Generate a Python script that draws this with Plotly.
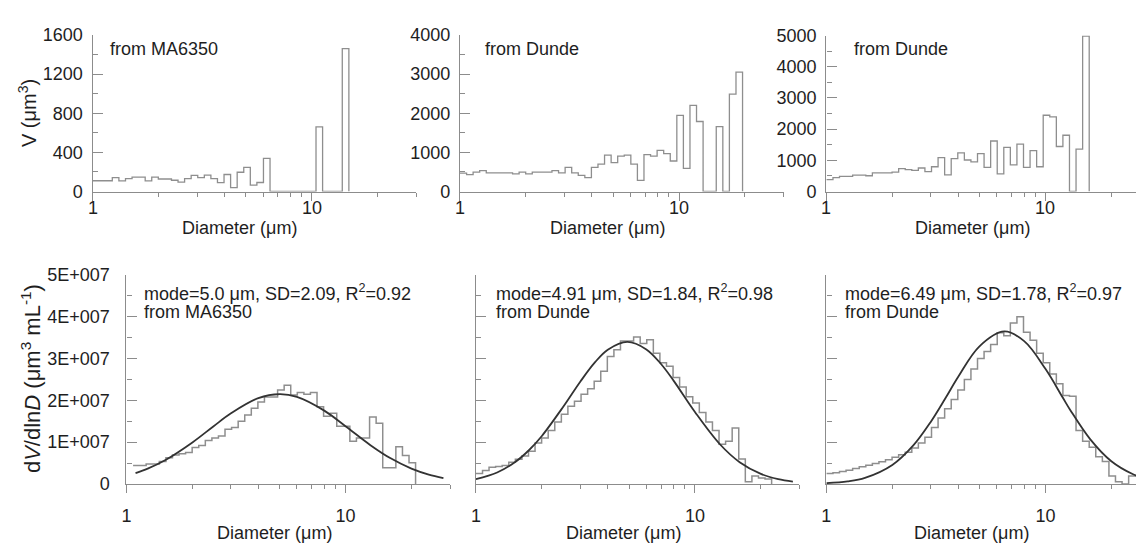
import math
import plotly.graph_objects as go

W, H = 1136, 554

# ---------------- data ----------------
# lower bin edges of the size classes (diameter, um); log step 0.03 decade
BIN_EDGES = [1.000, 1.072, 1.148, 1.230, 1.318, 1.413, 1.514, 1.622, 1.738, 1.862,
             1.995, 2.138, 2.291, 2.455, 2.630, 2.818, 3.020, 3.236, 3.467, 3.715,
             3.981, 4.266, 4.571, 4.898, 5.248, 5.623, 6.026, 6.457, 6.918, 7.413,
             7.943, 8.511, 9.120, 9.772, 10.47, 11.22, 12.02, 12.88, 13.80, 14.79,
             15.85, 16.98, 18.20, 19.50, 20.89, 22.39, 23.99, 25.70, 27.54, 29.51, 31.62]

# top row: V (um^3) per size class, first class = BIN_EDGES[0]
V_MA6350 = [110, 110, 110, 141, 108, 131, 148, 148, 108, 148, 128, 128, 115, 95, 131,
            164, 141, 167, 131, 90, 174, 40, 197, 246, 66, 92, 338, 0, 0, 0, 0, 0, 0, 0,
            660, 0, 0, 0, 1462, 0]
V_DUNDE_1 = [470, 430, 493, 534, 476, 476, 476, 476, 452, 493, 452, 493, 493, 493, 534,
             476, 616, 476, 410, 353, 616, 698, 928, 739, 903, 928, 698, 287, 944, 903,
             1051, 969, 780, 1946, 591, 2200, 1790, 0, 0, 1658, 0, 2488, 3054, 0]
V_DUNDE_2 = [380, 443, 485, 485, 526, 526, 505, 598, 598, 598, 619, 732, 701, 680, 753,
             639, 794, 1083, 536, 1052, 1237, 1010, 949, 1217, 773, 1619, 567, 1412, 856,
             1516, 773, 1309, 794, 2444, 2392, 1443, 1804, 0, 1361, 4980, 0]

# bottom row: dV/dlnD in units of 1E+007 um^3 mL^-1
DV_MA6350_START = 1
DV_MA6350 = [0.44, 0.44, 0.48, 0.48, 0.54, 0.63, 0.69, 0.72, 0.75, 0.87, 0.92, 1.04, 1.10,
             1.15, 1.31, 1.35, 1.50, 1.65, 1.81, 1.96, 2.08, 2.08, 2.25, 2.36, 2.13, 2.19,
             2.15, 2.19, 1.85, 1.62, 1.69, 1.38, 1.38, 1.02, 1.10, 1.10, 1.60, 1.45, 0.39,
             0.39, 0.89, 0.68, 0.51, 0]
DV_DUNDE_1_START = 0
DV_DUNDE_1 = [0.25, 0.32, 0.40, 0.42, 0.44, 0.52, 0.59, 0.67, 0.78, 0.98, 1.10, 1.28, 1.48,
              1.67, 1.86, 1.98, 2.15, 2.28, 2.46, 2.70, 3.05, 3.21, 3.42, 3.42, 3.52, 3.36,
              3.45, 3.13, 2.90, 2.82, 2.55, 2.32, 2.09, 1.94, 1.71, 1.48, 1.28, 0.95, 1.02,
              1.34, 0.60, 0.05, 0.19, 0.14, 0.12, 0]
DV_DUNDE_2_START = 0
DV_DUNDE_2 = [0.25, 0.27, 0.30, 0.33, 0.37, 0.41, 0.45, 0.49, 0.53, 0.58, 0.64, 0.70, 0.76,
              0.86, 0.98, 1.12, 1.35, 1.58, 1.80, 2.02, 2.25, 2.50, 2.75, 3.00, 3.17, 3.34,
              3.62, 3.55, 3.85, 4.00, 3.63, 3.44, 3.13, 2.90, 2.63, 2.40, 2.12, 2.10, 1.28,
              1.02, 0.88, 0.65, 0.54, 0.19, 0.05, 0, 0.19, 0.19]

# fitted log-normal curves, 1E+007 units
FIT_D_MA6350 = [1.1, 1.25, 1.5, 2, 2.5, 3, 4, 5, 6, 8, 10, 13, 16, 20, 24, 28]
FIT_MA6350 = [0.261, 0.367, 0.567, 0.993, 1.382, 1.691, 2.054, 2.150, 2.085, 1.755, 1.382,
              0.928, 0.619, 0.367, 0.224, 0.140]
FIT_D_DUNDE_1 = [1.0, 1.25, 1.5, 1.75, 2, 2.5, 3, 3.5, 4, 4.91, 6, 7, 8, 10, 13, 16, 20, 24, 28]
FIT_DUNDE_1 = [0.113, 0.274, 0.513, 0.813, 1.149, 1.842, 2.453, 2.914, 3.213, 3.400, 3.221,
               2.871, 2.468, 1.722, 0.950, 0.521, 0.240, 0.115, 0.058]
FIT_D_DUNDE_2 = [1.0, 1.25, 1.5, 2, 2.5, 3, 3.5, 4, 5, 6.49, 8, 10, 12, 13, 16, 20, 25, 28]
FIT_DUNDE_2 = [0.019, 0.062, 0.145, 0.455, 0.929, 1.491, 2.057, 2.566, 3.295, 3.650, 3.418,
               2.756, 2.068, 1.766, 1.073, 0.543, 0.237, 0.146]

X_MAJOR = [1, 10]
X_MAJOR_TEXT = ["1", "10"]
X_MINOR = [2, 3, 4, 5, 6, 7, 8, 9, 20, 30]

TOP_Y = [
    dict(vals=[0, 400, 800, 1200, 1600], minor=[200, 600, 1000, 1400], ymax=1600),
    dict(vals=[0, 1000, 2000, 3000, 4000], minor=[500, 1500, 2500, 3500], ymax=4000),
    dict(vals=[0, 1000, 2000, 3000, 4000, 5000], minor=[500, 1500, 2500, 3500, 4500], ymax=5000),
]
BOTTOM_Y_VALS = [0, 1, 2, 3, 4, 5]
BOTTOM_Y_TEXT = ["0", "1E+007", "2E+007", "3E+007", "4E+007", "5E+007"]
BOTTOM_Y_MINOR = [0.5, 1.5, 2.5, 3.5, 4.5]

SOURCES_TOP = ["from MA6350", "from Dunde", "from Dunde"]
FIT_TEXT = ["mode=5.0 \u03bcm, SD=2.09, R<sup>2</sup>=0.92",
            "mode=4.91 \u03bcm, SD=1.84, R<sup>2</sup>=0.98",
            "mode=6.49 \u03bcm, SD=1.78, R<sup>2</sup>=0.97"]
SOURCES_BOTTOM = ["from MA6350", "from Dunde", "from Dunde"]

# ---------------- layout geometry (pixels) ----------------
FONT = "Arial, 'Liberation Sans', Helvetica, sans-serif"
TXT = "#1e1e1e"
AX = "#8c8c8c"
HIST = "#8e8e8e"
FITC = "#333333"
PX_DEC = 220.0

panels = [
    # x0 (px of D=1), xright px, ytop px, ybottom px
    dict(x0=88, x1=413, yt=26, yb=188.3),
    dict(x0=457, x1=782, yt=26, yb=188.3),
    dict(x0=825, x1=1136, yt=26.5, yb=188.3),
    dict(x0=122, x1=447, yt=275, yb=491.7),
    dict(x0=473, x1=798, yt=275, yb=491.7),
    dict(x0=825, x1=1136, yt=275, yb=491.7),
]


def steps(values, start):
    if values[-1] == 0:
        xs = BIN_EDGES[start:start + len(values)]
        ys = list(values)
    else:
        xs = BIN_EDGES[start:start + len(values) + 1]
        ys = list(values) + [values[-1]]
    return xs, ys


fig = go.Figure()

top_series = [V_MA6350, V_DUNDE_1, V_DUNDE_2]
for i, vals in enumerate(top_series):
    xs, ys = steps(vals, 0)
    fig.add_trace(go.Scatter(x=xs, y=ys, mode="lines", line=dict(shape="hv", color=HIST, width=1.3),
                             xaxis=f"x{i+1}", yaxis=f"y{i+1}", showlegend=False, hoverinfo="skip"))

bottom_series = [(DV_MA6350, DV_MA6350_START, FIT_D_MA6350, FIT_MA6350),
                 (DV_DUNDE_1, DV_DUNDE_1_START, FIT_D_DUNDE_1, FIT_DUNDE_1),
                 (DV_DUNDE_2, DV_DUNDE_2_START, FIT_D_DUNDE_2, FIT_DUNDE_2)]
for j, (vals, st, fd, fv) in enumerate(bottom_series):
    n = j + 4
    xs, ys = steps(vals, st)
    fig.add_trace(go.Scatter(x=xs, y=[v * 1e7 for v in ys], mode="lines",
                             line=dict(shape="hv", color=HIST, width=1.5),
                             xaxis=f"x{n}", yaxis=f"y{n}", showlegend=False, hoverinfo="skip"))
    fig.add_trace(go.Scatter(x=fd, y=[v * 1e7 for v in fv], mode="lines",
                             line=dict(shape="spline", color=FITC, width=1.8),
                             xaxis=f"x{n}", yaxis=f"y{n}", showlegend=False, hoverinfo="skip"))

layout = dict(width=W, height=H, margin=dict(l=0, r=0, t=0, b=0),
              paper_bgcolor="white", plot_bgcolor="white",
              font=dict(family=FONT, size=18, color=TXT))

for i, p in enumerate(panels):
    n = i + 1
    dom_x = [p["x0"] / W, min(p["x1"] / W, 1.0)]
    dom_y = [1 - p["yb"] / H, 1 - p["yt"] / H]
    xr = (min(p["x1"], W) - p["x0"]) / PX_DEC
    layout[f"xaxis{n}"] = dict(
        type="log", domain=dom_x, range=[0, xr], anchor=f"y{n}",
        showline=True, linecolor=AX, linewidth=1.3, showgrid=False, zeroline=False,
        ticks="outside", ticklen=8, tickwidth=1.3, tickcolor=AX,
        tickmode="array", tickvals=X_MAJOR, ticktext=X_MAJOR_TEXT,
        showticklabels=(i >= 3), ticklabelstandoff=7,
        tickfont=dict(size=18, color=TXT, family=FONT),
        minor=dict(tickmode="array", tickvals=X_MINOR, ticks="outside", ticklen=4,
                   tickwidth=1.3, tickcolor=AX, showgrid=False),
    )
    if i < 3:
        ty = TOP_Y[i]
        yvals, ytext, yminor, ymax = ty["vals"], [str(v) for v in ty["vals"]], ty["minor"], ty["ymax"]
        showlab = True
        stand = 5
    else:
        yvals = [v * 1e7 for v in BOTTOM_Y_VALS]
        ytext = BOTTOM_Y_TEXT
        yminor = [v * 1e7 for v in BOTTOM_Y_MINOR]
        ymax = 5e7
        showlab = (i == 3)
        stand = 12
    layout[f"yaxis{n}"] = dict(
        domain=dom_y, range=[0, ymax], anchor=f"x{n}",
        showline=True, linecolor=AX, linewidth=1.3, showgrid=False, zeroline=False,
        ticks="inside", ticklen=10, tickwidth=1.3, tickcolor=AX,
        tickmode="array", tickvals=yvals, ticktext=ytext, showticklabels=showlab,
        ticklabelstandoff=stand,
        tickfont=dict(size=18, color=TXT, family=FONT),
        minor=dict(tickmode="array", tickvals=yminor, ticks="inside", ticklen=5,
                   tickwidth=1.3, tickcolor=AX, showgrid=False),
    )

fig.update_layout(**layout)

ann = []


def txt(x, y, s, xanchor="left", angle=0, size=18):
    ann.append(dict(x=x / W, y=1 - y / H, xref="paper", yref="paper", text=s, showarrow=False,
                    xanchor=xanchor, yanchor="middle", textangle=angle,
                    font=dict(family=FONT, size=size, color=TXT)))


# x tick labels of the top row, placed through each panel's own x axis
for i in range(3):
    for v, t in zip(X_MAJOR, X_MAJOR_TEXT):
        ann.append(dict(x=math.log10(v), xref=f"x{i+1}", y=1 - 205 / H, yref="paper", text=t,
                        showarrow=False, xanchor="center", yanchor="middle",
                        font=dict(family=FONT, size=18, color=TXT)))

# source labels, top row
for (xp, s) in zip([103, 480, 851], SOURCES_TOP):
    txt(xp, 40, s)
# fit labels, bottom row
for (xp, s1, s2) in zip([138, 491, 842], FIT_TEXT, SOURCES_BOTTOM):
    txt(xp, 293, s1)
    txt(xp, 313, s2)
# x-axis titles
for xc in [236, 605, 972]:
    txt(xc, 226, "Diameter (\u03bcm)", xanchor="center")
for xc in [271, 621, 971]:
    txt(xc, 543, "Diameter (\u03bcm)", xanchor="center")
# y-axis titles
txt(22, 107, "V (\u03bcm<sup>3</sup>)", xanchor="center", angle=-90, size=20)
txt(26, 382, "d<i>V</i>/dln<i>D</i> (\u03bcm<sup>3</sup> mL<sup>-1</sup>)", xanchor="center",
    angle=-90, size=22)

fig.update_layout(annotations=ann)
fig.write_html("out.html")
